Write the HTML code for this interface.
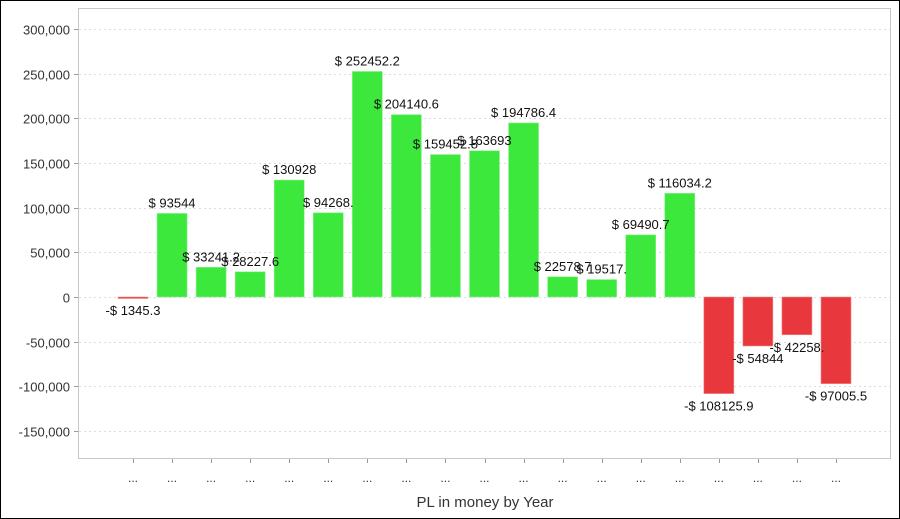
<!DOCTYPE html>
<html><head><meta charset="utf-8"><style>
html,body{margin:0;padding:0;background:#fff;}
svg{display:block;font-family:"Liberation Sans",Arial,sans-serif;}
</style></head><body>
<svg id="chart" width="900" height="519" viewBox="0 0 900 519">
<rect x="0.5" y="0.5" width="899" height="518" fill="#fff" stroke="#000"/>
<rect x="78.5" y="8.5" width="812" height="450" fill="#fff" stroke="#c8c8c8"/>
<g id="grid"></g>
<g id="yaxis"></g>
<g id="bars"></g>
<g id="labels"></g>
<g id="xaxis"></g>
<text x="485" y="507" text-anchor="middle" font-size="15" fill="#333">PL in money by Year</text>
</svg>
<script>
const categories = ["...","...","...","...","...","...","...","...","...","...","...","...","...","...","...","...","...","...","..."];
const values = [-1345.3, 93544, 33241.2, 28227.6, 130928, 94268.1, 252452.2, 204140.6, 159452.8, 163693, 194786.4, 22578.7, 19517.1, 69490.7, 116034.2, -108125.9, -54844, -42258.1, -97005.5];
const valueLabels = ["-$ 1345.3","$ 93544","$ 33241.2","$ 28227.6","$ 130928","$ 94268.","$ 252452.2","$ 204140.6","$ 159452.8","$ 163693","$ 194786.4","$ 22578.7","$ 19517.","$ 69490.7","$ 116034.2","-$ 108125.9","-$ 54844","-$ 42258.","-$ 97005.5"];
const yTicks = [300000,250000,200000,150000,100000,50000,0,-50000,-100000,-150000];

const NS="http://www.w3.org/2000/svg";
function y(v){return 297 - v*(268/300000);}
function x(i){return 133 + i*(703/18);}
function mk(tag,attrs,parent){const e=document.createElementNS(NS,tag);for(const k in attrs)e.setAttribute(k,attrs[k]);parent.appendChild(e);return e;}
const grid=document.getElementById('grid'),ya=document.getElementById('yaxis'),bars=document.getElementById('bars'),labels=document.getElementById('labels'),xa=document.getElementById('xaxis');
yTicks.forEach(t=>{
  const yy=Math.round(y(t))+0.5;
  const g=mk('line',{x1:79,x2:890,y1:yy,y2:yy,stroke:'#dcdcdc','stroke-dasharray':'2,3'},grid);
  
  
  const tk=mk('line',{x1:74,x2:78,y1:yy,y2:yy,stroke:'#999'},ya);
  
  
  const tx=mk('text',{x:70,y:yy+5,'text-anchor':'end','font-size':'13',fill:'#333'},ya);
  tx.textContent=t.toLocaleString('en-US');
  
  
});
values.forEach((v,i)=>{
  const cx=x(i),w=30,y0=y(0),y1=y(v);
  const r=mk('rect',{x:cx-w/2,y:Math.min(y0,y1),width:w,height:Math.max(1.5,Math.abs(y1-y0)),fill:v>=0?'#3de83d':'#e8383d',stroke:v>=0?'#8cf08c':'#f08c8c','stroke-width':0.6},bars);
  
  
  const ly=v>=0?y1-6:y1+17;
  const t=mk('text',{x:cx,y:ly,'text-anchor':'middle','font-size':'13',fill:'#111'},labels);
  t.textContent=valueLabels[i];
  
  
  const tk=mk('line',{x1:Math.round(cx)+0.5,x2:Math.round(cx)+0.5,y1:459,y2:463,stroke:'#999'},xa);
  
  
  const ct=mk('text',{x:cx,y:482,'text-anchor':'middle','font-size':'12',fill:'#333'},xa);
  ct.textContent=categories[i];
  
  
});
</script>
</body></html>
